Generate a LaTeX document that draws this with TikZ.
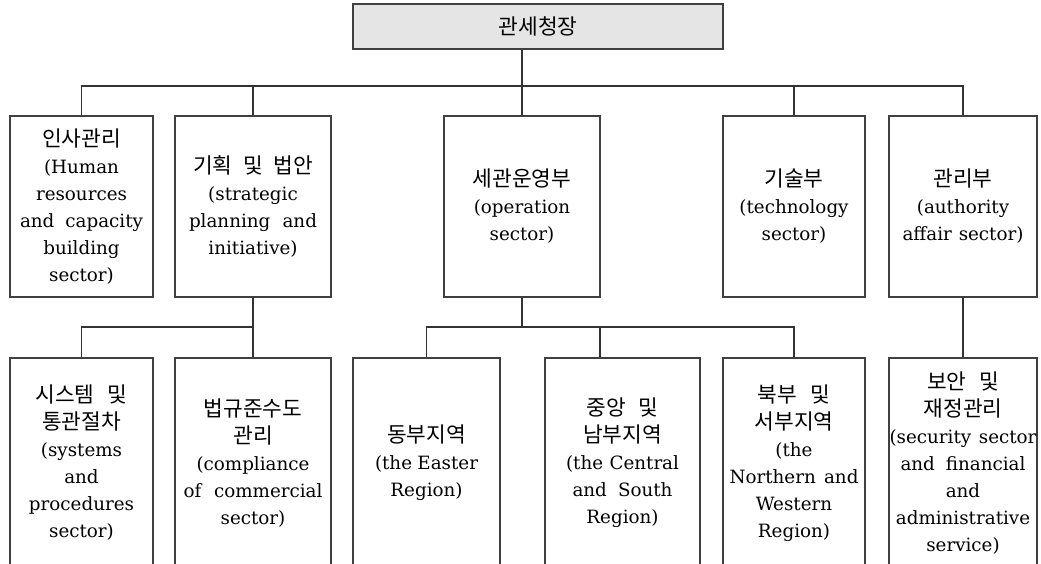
\documentclass[tikz,border=0pt]{standalone}
\usepackage{fontspec}
\setmainfont{DejaVu Serif}
\newfontfamily\kr{Noto Sans CJK KR}[Scale=1.17]
\newcommand\kt[1]{{\kr #1}}
\newcommand\sw[2]{\makebox[#1pt][s]{#2}}
\newcommand\ks[2]{\makebox[#1pt][s]{\kr #2}}
\begin{document}
\begin{tikzpicture}[x=1pt,y=-1pt,
  box/.style={draw=black!75, line width=1.1pt, inner sep=0pt, align=center,
    font=\fontsize{18.3}{27}\selectfont},
  row1/.style={box, minimum height=181pt},
  row2/.style={box, minimum height=210pt},
  conn/.style={draw=black!80, line width=1.1pt}]
\useasboundingbox (0,0) rectangle (1041,564);
\clip (0,0) rectangle (1041,564);
% top
\node[box, fill=gray!20, minimum width=370pt, minimum height=45pt] (chief) at (538,26.5) {\kt{관세청장}};
% row 1
\node[row1, minimum width=143pt] (hr) at (81.5,206.5)
  {\kt{인사관리}\\(Human\\resources\\\sw{123}{and capacity}\\building\\sector)};
\node[row1, minimum width=156pt] (plan) at (253,206.5)
  {\ks{120}{기획 및 법안}\\(strategic\\\sw{128}{planning and}\\initiative)};
\node[row1, minimum width=156pt] (ops) at (522,206.5)
  {\kt{세관운영부}\\(operation\\sector)};
\node[row1, minimum width=142pt] (tech) at (794,206.5)
  {\kt{기술부}\\(technology\\sector)};
\node[row1, minimum width=148pt] (auth) at (963,206.5)
  {\kt{관리부}\\(authority\\\sw{121}{affair sector)}};
% row 2
\node[row2, minimum width=143pt] (sys) at (81.5,463)
  {\ks{92}{시스템 및}\\\kt{통관절차}\\(systems\\and\\procedures\\sector)};
\node[row2, minimum width=156pt] (comp) at (253,463)
  {\kt{법규준수도}\\\kt{관리}\\(compliance\\\sw{139}{of commercial}\\sector)};
\node[row2, minimum width=147pt] (east) at (426.5,463)
  {\kt{동부지역}\\\sw{103}{(the Easter}\\Region)};
\node[row2, minimum width=155pt] (central) at (622.5,463)
  {\ks{72}{중앙 및}\\\kt{남부지역}\\\sw{113}{(the Central}\\\sw{100}{and South}\\Region)};
\node[row2, minimum width=142pt] (nw) at (794,463)
  {\ks{73}{북부 및}\\\kt{서부지역}\\(the\\\sw{129}{Northern and}\\Western\\Region)};
\node[row2, minimum width=148pt] (sec) at (963,463)
  {\ks{72}{보안 및}\\\kt{재정관리}\\\sw{147}{(security sector}\\\sw{125}{and financial}\\and\\administrative\\service)};
% connectors
\coordinate (b1) at (0,86);
\coordinate (b2) at (0,327);
\draw[conn] (ops.north) -- (ops.north |- chief.south);
\draw[conn] (hr.north) |- (b1 -| auth.north) -- (auth.north);
\draw[conn] (plan.north) -- (plan.north |- b1);
\draw[conn] (tech.north) -- (tech.north |- b1);
\draw[conn] (plan.south) -- (comp.north);
\draw[conn] (sys.north) |- (comp.north |- b2);
\draw[conn] (ops.south) -- (ops.south |- b2);
\draw[conn] (east.north) |- (b2 -| nw.north) -- (nw.north);
\draw[conn] ([xshift=-22.5pt]central.north) -- ([xshift=-22.5pt]central.north |- b2);
\draw[conn] (auth.south) -- (sec.north);
\end{tikzpicture}
\end{document}
